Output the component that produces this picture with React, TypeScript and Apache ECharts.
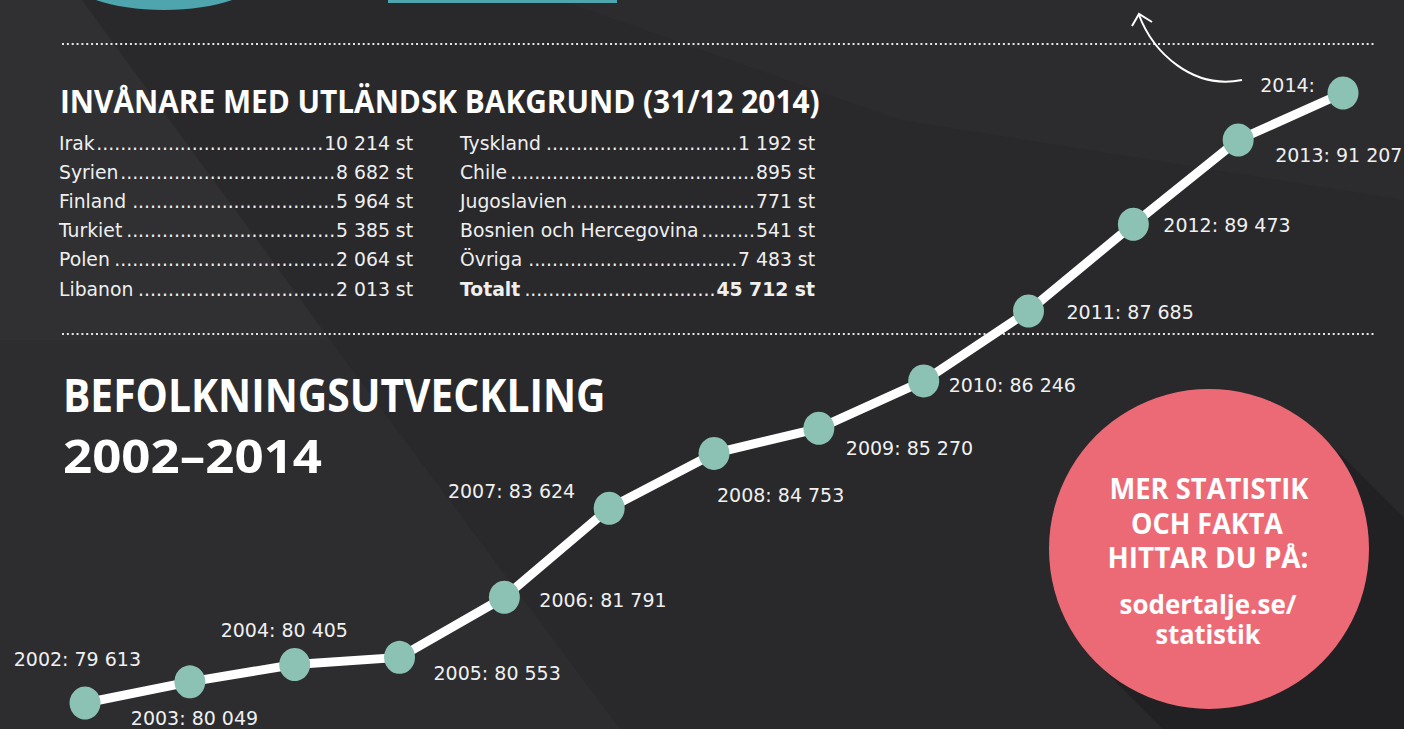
import React, { useEffect, useRef } from "react";
import * as echarts from "echarts";

// ---- Data ----
const years = ["2002", "2003", "2004", "2005", "2006", "2007", "2008", "2009", "2010", "2011", "2012", "2013", "2014"];
const population = [79613, 80049, 80405, 80553, 81791, 83624, 84753, 85270, 86246, 87685, 89473, 91207, 92175];
const yearsWithoutValueLabel = ["2014"];

const leftNames = ["Irak", "Syrien", "Finland", "Turkiet", "Polen", "Libanon"];
const leftValues = [10214, 8682, 5964, 5385, 2064, 2013];
const rightNames = ["Tyskland", "Chile", "Jugoslavien", "Bosnien och Hercegovina", "Övriga", "Totalt"];
const rightValues = [1192, 895, 771, 541, 7483, 45712];

const tableTitle = "INVÅNARE MED UTLÄNDSK BAKGRUND (31/12 2014)";
const chartTitleLines = ["BEFOLKNINGSUTVECKLING", "2002–2014"];
const badgeLines = ["MER STATISTIK", "OCH FAKTA", "HITTAR DU PÅ:"];
const badgeLinkLines = ["sodertalje.se/", "statistik"];

// ---- Layout (label placement per point: align, dx, dy) ----
const labelLayout: [string, number, number][] = [
  ["right", 56, -44],
  ["left", -59, 36],
  ["left", -74, -35],
  ["left", 34, 16],
  ["left", 35, 3],
  ["right", -34, -17],
  ["left", 3, 42],
  ["left", 27, 20],
  ["left", 25, 4],
  ["left", 38, 1],
  ["left", 30, 1],
  ["left", 37, 15],
  ["right", -28, -8],
];

const TITLE_FONT = "'Open Sans', 'Noto Sans', sans-serif";
const BODY_FONT = "'DejaVu Sans', 'Noto Sans', sans-serif";
const fmt = (n: number) => String(n).replace(/\B(?=(\d{3})+(?!\d))/g, " ");

let measureCtx: CanvasRenderingContext2D | null = null;
function textWidth(t: string, size: number, weight: string | number, family: string) {
  if (!measureCtx) measureCtx = document.createElement("canvas").getContext("2d");
  measureCtx!.font = `${weight} ${size}px ${family}`;
  return measureCtx!.measureText(t).width;
}

function fittedText(text: string, x: number, y: number, size: number, target: number, align: string, weight = "bold", color = "#ffffff") {
  const w = textWidth(text, size, weight, TITLE_FONT);
  return {
    type: "text",
    x,
    y,
    scaleX: target / w,
    z: 20,
    style: { text, fill: color, fontSize: size, fontFamily: TITLE_FONT, fontWeight: weight, align, verticalAlign: "middle" },
  };
}

function tableRows(names: string[], values: number[], left: number, right: number, boldLast: boolean) {
  const rowY = [143, 172, 201, 230, 259, 289];
  const size = 18.8;
  const out: any[] = [];
  names.forEach((name, i) => {
    const weight = boldLast && i === names.length - 1 ? "bold" : "normal";
    const valText = `${fmt(values[i])} st`;
    const nameW = textWidth(name, size, weight, BODY_FONT);
    const valW = textWidth(valText, size, weight, BODY_FONT);
    const dotW = textWidth(".", size, "normal", BODY_FONT);
    const gap = right - valW - 1 - (left + nameW + 1);
    const n = Math.max(0, Math.floor(gap / dotW));
    const y = rowY[i];
    const base = { fill: "#efefef", fontSize: size, fontFamily: BODY_FONT, verticalAlign: "middle" };
    out.push({ type: "text", x: left, y, z: 20, style: { ...base, text: name, fontWeight: weight, align: "left" } });
    out.push({ type: "text", x: right - valW - 1, y, z: 20, style: { ...base, text: ".".repeat(n), fontWeight: "normal", align: "right" } });
    out.push({ type: "text", x: right, y, z: 20, style: { ...base, text: valText, fontWeight: weight, align: "right" } });
  });
  return out;
}

export default function App() {
  const ref = useRef<HTMLDivElement>(null);
  useEffect(() => {
    if (!ref.current) return;
    const chart = echarts.init(ref.current, undefined, { renderer: "svg" });

    const cx = 1209, cy = 549, r = 160;
    const k = r / Math.SQRT2;

    const graphic: any[] = [
      // background facets
      { type: "polygon", z: 0, shape: { points: [[0, 0], [82, 0], [330, 340], [0, 340]] }, style: { fill: "#303033" } },
      { type: "polygon", z: 0, shape: { points: [[330, 340], [620, 729], [0, 729], [0, 340]] }, style: { fill: "#2d2d30" } },
      { type: "polygon", z: 0, shape: { points: [[560, 0], [1404, 0], [1404, 200], [900, 120]] }, style: { fill: "#2c2c2f" } },
      // top teal shapes
      { type: "ellipse", z: 1, shape: { cx: 164, cy: -30, rx: 103, ry: 40 }, style: { fill: "#4ea5ae" } },
      { type: "rect", z: 1, shape: { x: 388, y: -5, width: 229, height: 8 }, style: { fill: "#4ea5ae" } },
      // dotted separators
      { type: "line", z: 5, shape: { x1: 62, y1: 44, x2: 1374, y2: 44 }, style: { stroke: "#e6e6e6", lineWidth: 2, lineDash: [2, 2.85] } },
      { type: "line", z: 5, shape: { x1: 62, y1: 334, x2: 1374, y2: 334 }, style: { stroke: "#e6e6e6", lineWidth: 2, lineDash: [2, 2.85] } },
      // arrow
      { type: "bezierCurve", z: 6, shape: { x1: 1242, y1: 80, cpx1: 1192, cpy1: 90, cpx2: 1153, cpy2: 52, x2: 1139, y2: 15 }, style: { stroke: "#ffffff", lineWidth: 2, fill: "none" } },
      { type: "polyline", z: 6, shape: { points: [[1132, 26], [1139, 14], [1152, 22]] }, style: { stroke: "#ffffff", lineWidth: 2, fill: "none" } },
      // badge shadow and circle
      {
        type: "polygon", z: 3,
        shape: { points: [[cx + k, cy - k], [cx + k + 600, cy - k + 600], [cx - k + 600, cy + k + 600], [cx - k, cy + k]] },
        style: { fill: "rgba(0,0,0,0.18)" },
      },
      { type: "circle", z: 4, shape: { cx, cy, r }, style: { fill: "#ec6a76" } },
      // titles
      fittedText(tableTitle, 60, 100, 33, 760, "left"),
      fittedText(chartTitleLines[0], 63, 395, 46, 543, "left"),
      fittedText(chartTitleLines[1], 63, 455, 46, 259, "left"),
      // badge texts
      fittedText(badgeLines[0], 1209, 488, 28, 199, "center"),
      fittedText(badgeLines[1], 1207, 523, 28, 152, "center"),
      fittedText(badgeLines[2], 1208, 557, 28, 201, "center"),
      fittedText(badgeLinkLines[0], 1208, 604, 26, 177, "center"),
      fittedText(badgeLinkLines[1], 1208, 634, 26, 105, "center"),
      ...tableRows(leftNames, leftValues, 59, 413, false),
      ...tableRows(rightNames, rightValues, 460, 815, true),
    ];

    chart.setOption({
      animation: false,
      backgroundColor: "#29292c",
      grid: { left: 85, right: 61, top: 0, bottom: 0 },
      xAxis: { type: "category", data: years, boundaryGap: false, show: false },
      yAxis: { type: "value", min: 79078, max: 94090, show: false, splitLine: { show: false } },
      graphic,
      series: [
        {
          type: "line",
          z: 10,
          symbol: "circle",
          symbolSize: [31, 33],
          lineStyle: { color: "#ffffff", width: 9 },
          itemStyle: { color: "#8cc2b3" },
          label: {
            show: true,
            position: "inside",
            verticalAlign: "middle",
            color: "#f0f0f0",
            fontSize: 19,
            fontFamily: BODY_FONT,
            formatter: (p: any) =>
              yearsWithoutValueLabel.includes(years[p.dataIndex])
                ? `${years[p.dataIndex]}:`
                : `${years[p.dataIndex]}: ${fmt(p.value)}`,
          },
          data: population.map((v, i) => ({
            value: v,
            label: { align: labelLayout[i][0], offset: [labelLayout[i][1], labelLayout[i][2]] },
          })),
        },
      ],
    });
    return () => chart.dispose();
  }, []);
  return <div ref={ref} style={{ position: "absolute", left: 0, top: 0, width: 1404, height: 729 }} />;
}
